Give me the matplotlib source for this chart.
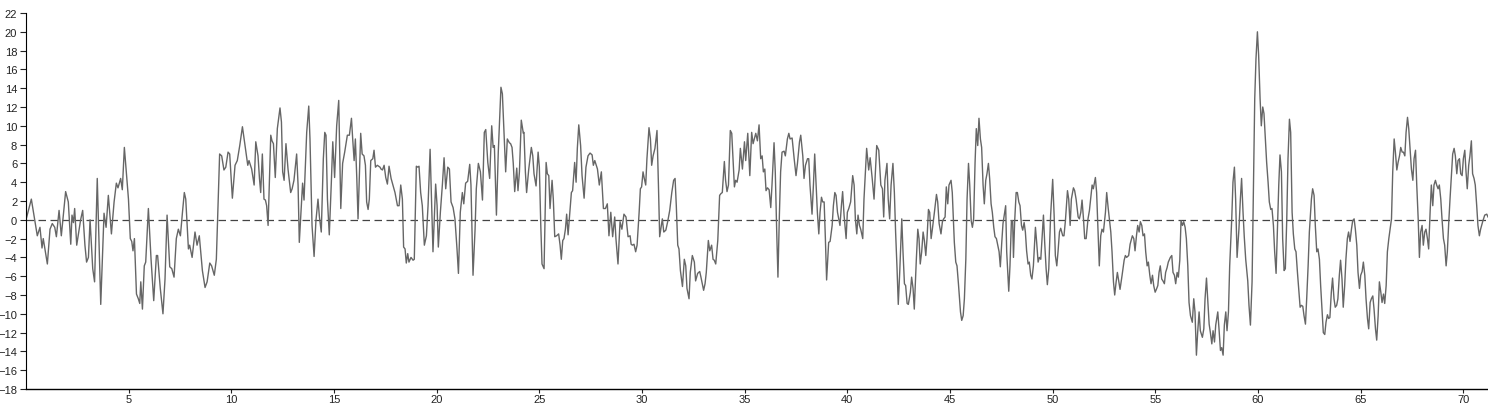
import matplotlib
matplotlib.use("Agg")
import matplotlib.pyplot as plt

# values (turning points of the trace)
x_vals = [
    0.0, 0.26, 0.55, 0.68, 0.78, 0.84, 1.04, 1.17, 1.28, 1.40, 1.48, 1.61, 1.72, 1.93, 2.06, 2.18, 2.24, 2.31, 2.37, 2.47,
    2.66, 2.76, 2.87, 2.95, 3.04, 3.12, 3.25, 3.34, 3.47, 3.64, 3.80, 3.90, 4.01, 4.16, 4.29, 4.40, 4.48, 4.61, 4.69, 4.79,
    4.99, 5.08, 5.15, 5.21, 5.28, 5.38, 5.47, 5.54, 5.59, 5.67, 5.76, 5.83, 5.96, 6.09, 6.22, 6.35, 6.41, 6.54, 6.67, 6.77,
    6.87, 7.00, 7.10, 7.21, 7.32, 7.42, 7.52, 7.62, 7.71, 7.78, 7.91, 7.97, 8.09, 8.23, 8.33, 8.44, 8.59, 8.72, 8.82, 8.95,
    9.04, 9.17, 9.27, 9.43, 9.53, 9.64, 9.73, 9.84, 9.92, 10.05, 10.18, 10.29, 10.41, 10.54, 10.64, 10.80, 10.86, 10.99, 11.11, 11.19,
    11.30, 11.37, 11.43, 11.51, 11.59, 11.66, 11.72, 11.79, 11.92, 11.98, 12.05, 12.14, 12.24, 12.37, 12.44, 12.50, 12.57, 12.66, 12.76, 12.89,
    12.96, 13.05, 13.18, 13.25, 13.31, 13.41, 13.47, 13.54, 13.67, 13.77, 13.83, 13.93, 14.03, 14.12, 14.22, 14.29, 14.38, 14.48, 14.55, 14.61,
    14.68, 14.77, 14.87, 14.94, 15.03, 15.13, 15.23, 15.33, 15.42, 15.52, 15.65, 15.75, 15.85, 15.91, 15.98, 16.04, 16.11, 16.17, 16.30, 16.37,
    16.46, 16.53, 16.59, 16.66, 16.72, 16.79, 16.89, 16.95, 17.02, 17.11, 17.24,
    17.29, 17.36, 17.44, 17.52, 17.60, 17.68, 17.78, 17.87, 17.97, 18.09, 18.17, 18.25, 18.33, 18.39, 18.46, 18.52, 18.59, 18.65, 18.75, 18.85,
    18.91, 19.01, 19.08, 19.14, 19.22, 19.30, 19.40, 19.50, 19.58, 19.68, 19.76, 19.82, 19.95, 20.02, 20.08, 20.18, 20.28, 20.36, 20.44, 20.54,
    20.62, 20.70, 20.80, 20.89, 20.99, 21.06, 21.15, 21.25, 21.32, 21.41, 21.51, 21.61, 21.67, 21.77, 21.87, 21.93, 22.03, 22.13, 22.23, 22.32,
    22.39, 22.49, 22.58, 22.68, 22.75, 22.81, 22.91, 23.00, 23.13, 23.20,
    23.28, 23.36, 23.44, 23.54, 23.60, 23.67, 23.73, 23.80, 23.90, 23.96, 24.03, 24.12, 24.22, 24.25, 24.32, 24.38, 24.48, 24.61, 24.68, 24.74,
    24.84, 24.94, 25.00, 25.07, 25.13, 25.23, 25.33, 25.39, 25.46, 25.52, 25.62, 25.68, 25.75, 25.84, 25.94, 26.01, 26.07, 26.14, 26.20, 26.27,
    26.33, 26.40, 26.46, 26.56, 26.62, 26.72, 26.79, 26.85, 26.92, 27.01, 27.08, 27.18, 27.27, 27.37, 27.47, 27.57, 27.63, 27.70, 27.83, 27.92,
    28.02, 28.12, 28.22, 28.31, 28.39, 28.48, 28.57, 28.67, 28.73, 28.83, 28.93, 29.02, 29.12, 29.22, 29.32, 29.42,
    29.47, 29.53, 29.61, 29.69, 29.76, 29.86, 29.92, 29.98, 30.05, 30.11, 30.18, 30.24, 30.34, 30.41, 30.47, 30.54, 30.63, 30.73, 30.80, 30.86,
    30.93, 30.99, 31.06, 31.16, 31.25, 31.35, 31.45, 31.54, 31.61, 31.67, 31.74, 31.80, 31.87, 31.97, 32.06, 32.13, 32.19, 32.29, 32.35, 32.45,
    32.55, 32.61, 32.71, 32.81, 32.87, 33.00, 33.07, 33.13, 33.23, 33.30, 33.39, 33.46, 33.52, 33.59, 33.69, 33.78, 33.85, 33.91, 34.01, 34.07,
    34.14, 34.21, 34.30, 34.37, 34.43, 34.50, 34.56, 34.63, 34.73, 34.79, 34.89, 34.99, 35.05, 35.15, 35.25, 35.34, 35.41, 35.47, 35.54,
    35.62, 35.70, 35.78, 35.85, 35.91, 35.98, 36.04, 36.11, 36.19, 36.27, 36.33, 36.43, 36.49, 36.56, 36.62, 36.69, 36.75, 36.82, 36.92, 36.98,
    37.08, 37.15, 37.21, 37.31, 37.41, 37.50, 37.57, 37.67, 37.73, 37.83, 37.89, 37.96, 38.06, 38.12, 38.18, 38.28, 38.35, 38.41, 38.48, 38.54,
    38.61, 38.67, 38.74, 38.80, 38.87, 38.93, 38.99, 39.09, 39.16, 39.26, 39.32, 39.39, 39.45, 39.52, 39.58, 39.64, 39.71, 39.77, 39.84, 39.94,
    40.00, 40.07, 40.16, 40.26, 40.33, 40.39, 40.46, 40.52, 40.59, 40.65, 40.75, 40.81, 40.88, 40.94, 41.04, 41.11, 41.21, 41.30, 41.37, 41.43,
    41.53, 41.63,
    41.71, 41.77, 41.83, 41.93, 41.99, 42.06, 42.13, 42.22, 42.29, 42.35, 42.42, 42.48, 42.55, 42.65, 42.71, 42.78, 42.84, 42.91, 42.97, 43.07,
    43.13, 43.20, 43.26, 43.36, 43.43, 43.49, 43.55, 43.62, 43.69, 43.75, 43.82, 43.88, 43.95, 44.01, 44.08, 44.14, 44.24, 44.34, 44.40, 44.47,
    44.56, 44.63, 44.69, 44.76, 44.82, 44.89, 44.95, 45.05, 45.11, 45.21, 45.28, 45.34, 45.41, 45.51, 45.57, 45.64, 45.70, 45.77, 45.83, 45.90,
    45.96, 46.03, 46.09, 46.15, 46.22, 46.28, 46.35, 46.41, 46.48, 46.54, 46.61, 46.67, 46.74, 46.80, 46.87, 46.93, 47.00, 47.06, 47.13, 47.19,
    47.26, 47.39, 47.45, 47.52, 47.58, 47.71,
    47.76, 47.86, 47.92, 47.99, 48.05, 48.09, 48.15, 48.22, 48.28, 48.35, 48.41, 48.48, 48.54, 48.61, 48.67, 48.73, 48.80, 48.86, 48.93, 48.99,
    49.06, 49.16, 49.22, 49.29, 49.35, 49.42, 49.48, 49.55, 49.61, 49.68, 49.74, 49.81, 49.90, 50.00, 50.07, 50.13, 50.20, 50.26, 50.33, 50.39,
    50.49, 50.55, 50.62, 50.72, 50.78, 50.85, 50.91, 51.01, 51.07, 51.14, 51.24, 51.30, 51.37, 51.43, 51.50, 51.56, 51.63, 51.72, 51.79, 51.85,
    51.92, 51.98, 52.08, 52.14, 52.21, 52.27, 52.34, 52.40, 52.47, 52.57, 52.63, 52.70, 52.76, 52.83, 52.89, 52.96, 53.02, 53.09, 53.15, 53.22,
    53.28, 53.38, 53.48, 53.54, 53.60, 53.70, 53.77,
    53.88, 53.95, 54.01, 54.08, 54.14, 54.21, 54.27, 54.34, 54.40, 54.47, 54.53, 54.60, 54.66, 54.73, 54.79, 54.86, 54.92, 54.99, 55.05, 55.12,
    55.18, 55.24, 55.31, 55.37, 55.44, 55.50, 55.57, 55.63, 55.73, 55.80, 55.86, 55.93, 55.99, 56.06, 56.12, 56.19, 56.25, 56.32, 56.38, 56.45,
    56.51, 56.58, 56.64, 56.71, 56.80, 56.87, 56.93, 57.00, 57.06, 57.13, 57.19, 57.29, 57.36, 57.42, 57.49, 57.55, 57.62, 57.68, 57.75, 57.81,
    57.88, 57.94, 58.04, 58.10, 58.17, 58.23, 58.30, 58.36, 58.43, 58.49, 58.56, 58.62, 58.72, 58.78, 58.85, 58.91, 58.98, 59.07, 59.14, 59.20,
    59.27, 59.33, 59.40, 59.50, 59.56, 59.63,
    59.71, 59.77, 59.84, 59.90, 59.97, 60.03, 60.10, 60.16, 60.23, 60.29, 60.36, 60.42, 60.49, 60.55, 60.62, 60.68, 60.75, 60.81, 60.88, 60.94,
    61.01, 61.07, 61.14, 61.20, 61.27, 61.33, 61.40, 61.46, 61.53, 61.59, 61.66, 61.72, 61.79, 61.85, 61.92, 61.98, 62.05, 62.11, 62.18, 62.24,
    62.31, 62.37, 62.44, 62.50, 62.60, 62.66, 62.73, 62.79, 62.86, 62.92, 62.99, 63.05, 63.12, 63.18, 63.25, 63.31, 63.38, 63.44, 63.50, 63.57,
    63.63, 63.70, 63.76, 63.83, 63.89, 63.96, 64.02, 64.09, 64.15, 64.22, 64.28, 64.35, 64.41, 64.48, 64.55, 64.61, 64.68, 64.74, 64.81, 64.87,
    64.94, 65.00, 65.07, 65.13, 65.20, 65.26, 65.33, 65.39, 65.46, 65.52, 65.59, 65.65, 65.72, 65.78, 65.85, 65.91,
    65.98, 66.04, 66.11, 66.17, 66.24, 66.30, 66.37, 66.43, 66.50, 66.56, 66.63, 66.69, 66.76, 66.82, 66.89, 66.95, 67.02, 67.08, 67.15, 67.21,
    67.28, 67.34, 67.41, 67.47, 67.54, 67.60, 67.67, 67.73, 67.80, 67.86, 67.92, 67.99, 68.05, 68.12, 68.18, 68.25, 68.31, 68.38, 68.44, 68.51,
    68.57, 68.64, 68.70, 68.77, 68.83, 68.90, 68.96, 69.03, 69.09, 69.16, 69.22, 69.29, 69.35, 69.42, 69.48, 69.55, 69.61, 69.68, 69.74, 69.81,
    69.87, 69.94, 70.00, 70.07, 70.13, 70.19, 70.26, 70.32, 70.39, 70.45, 70.52, 70.58, 70.65, 70.71, 70.78, 70.84, 70.94, 71.04, 71.14, 71.20,
]

y_vals = [
    0.0, 2.2, -1.7, -0.8, -3.0, -2.0, -4.7, -1.0, -0.4, -0.8, -1.8, 1.0, -1.7, 3.0, 1.9, -2.6, 0.5, -0.3, 1.2, -2.7,
    0.0, 1.0, -2.7, -4.5, -4.0, 0.0, -5.2, -6.6, 4.4, -9.0, 0.7, -0.8, 2.6, -1.5, 1.9, 3.9, 3.4, 4.4, 3.2, 7.7,
    2.2, -2.0, -2.3, -3.3, -2.0, -7.9, -8.4, -8.9, -6.6, -9.5, -4.9, -4.5, 1.2, -4.2, -8.6, -3.8, -3.8, -7.3, -10.0, -6.3,
    0.5, -5.0, -5.2, -6.1, -2.0, -1.0, -1.7, 0.8, 2.9, 2.2, -3.1, -2.7, -4.0, -1.3, -2.7, -1.7, -5.4, -7.2, -6.6, -4.6,
    -4.9, -5.9, -4.2, 7.0, 6.8, 5.3, 5.6, 7.2, 7.0, 2.3, 5.8, 6.3, 7.9, 9.9, 8.3, 5.8, 6.3, 5.4, 3.7, 8.3,
    6.8, 4.4, 2.9, 7.0, 2.2, 2.1, 1.5, -0.6, 9.0, 8.4, 8.1, 4.5, 9.7, 11.9, 10.4, 5.1, 4.2, 8.1, 5.4, 2.9,
    3.3, 4.2, 7.0, 3.7, -2.4, 1.5, 3.9, 2.1, 9.3, 12.1, 8.6, -0.6, -3.9, -0.1, 2.2, 0.3, -1.3, 6.5, 9.3, 9.0,
    2.2, -1.6, 4.0, 8.3, 4.5, 10.0, 12.7, 1.2, 6.0, 7.2, 9.0, 9.0, 10.8, 8.6, 6.3, 8.6, 4.4, 0.1, 9.2, 7.0,
    6.8, 5.8, 1.9, 1.1, 2.2, 6.3, 6.5, 7.4, 5.6, 5.8, 5.6,
    5.4, 5.3, 5.8, 4.5, 3.8, 5.7, 4.4, 3.7, 2.9, 1.5, 1.5, 3.7, 2.2, -2.9, -3.1, -4.6, -3.6, -4.5, -4.0, -4.3,
    -4.2, 5.7, 5.6, 5.7, 2.9, 1.5, -2.7, -1.7, 1.5, 7.5, 1.5, -3.4, 3.8, 1.5, -2.9, 0.8, 3.8, 6.6, 3.3, 5.6,
    5.4, 1.9, 1.3, 0.1, -3.1, -5.7, 0.8, 2.9, 1.7, 3.9, 4.1, 5.9, 3.7, -5.9, -1.0, 3.3, 6.0, 5.1, 2.1, 9.3,
    9.6, 6.1, 4.4, 10.0, 7.7, 7.9, 0.5, 7.2, 14.1, 13.4,
    9.3, 5.1, 8.6, 8.2, 8.1, 7.7, 6.0, 3.0, 5.5, 3.1, 5.1, 10.6, 9.2, 9.3, 5.1, 2.9, 5.3, 7.7, 6.8, 4.9,
    3.6, 7.2, 5.6, -0.6, -4.7, -5.2, 6.1, 4.9, 4.7, 1.2, 4.2, 2.2, -1.8, -1.7, -1.5, -2.7, -4.2, -2.2, -2.0, -1.0,
    0.6, -1.6, 0.1, 2.9, 3.1, 6.1, 4.0, 7.6, 10.1, 7.9, 4.7, 2.3, 5.6, 6.8, 7.1, 6.9, 5.8, 6.3, 5.4, 3.7,
    5.1, 1.2, 1.2, 1.7, -1.7, 0.8, -1.8, 0.3, -2.0, -4.7, -0.2, -1.0, 0.6, 0.3, -1.8, -1.7,
    -2.6, -2.7, -2.6, -3.4, -2.7, 0.8, 3.3, 3.5, 5.1, 4.4, 3.7, 6.5, 9.8, 8.6, 5.8, 6.8, 7.6, 9.5, 3.7, -1.8,
    -0.8, 0.1, -1.3, -1.1, -0.2, 1.0, 2.9, 4.2, 4.4, 1.5, -2.7, -3.1, -5.4, -7.1, -4.2, -4.9, -7.3, -8.4, -5.6, -3.8,
    -4.5, -6.5, -5.7, -5.5, -6.1, -7.5, -6.8, -5.6, -2.2, -3.3, -2.7, -4.2, -4.3, -4.7, -2.2, 2.6, 2.8, 2.9, 6.2, 4.2,
    3.0, 3.7, 9.5, 9.2, 6.5, 3.5, 4.2, 4.0, 5.3, 7.6, 5.4, 8.3, 6.3, 9.2, 4.7, 9.3, 8.1, 8.6, 9.2,
    8.4, 10.1, 6.5, 6.8, 5.1, 5.4, 3.1, 3.4, 3.2, 1.3, 3.7, 8.2, 5.1, -1.3, -6.1, 0.5, 5.1, 7.2, 7.3, 6.8,
    8.6, 9.2, 8.6, 8.7, 6.5, 4.7, 6.0, 8.3, 9.0, 6.8, 4.4, 5.8, 6.5, 6.5, 3.7, 0.6, 3.8, 7.0, 3.7, 0.8,
    -1.5, 0.8, 2.4, 1.9, 1.9, -2.0, -6.4, -2.4, -2.3, -0.6, 1.5, 2.9, 2.6, 0.8, 0.1, -0.6, 1.5, 3.0, 0.5, -2.0,
    0.8, 1.2, 1.9, 4.7, 3.7, 0.1, -1.5, 0.5, -0.6, -1.0, -2.0, 2.2, 5.1, 7.6, 5.3, 6.6, 4.4, 2.2, 5.4, 7.9,
    7.4, 3.7,
    3.3, 0.3, 4.2, 6.0, 2.2, 0.1, 3.7, 6.0, 2.9, -1.3, -5.2, -9.0, -5.6, 0.1, -3.4, -6.8, -7.0, -8.9, -9.0, -7.7,
    -6.1, -7.3, -9.5, -4.2, -1.0, -2.0, -4.7, -3.4, -1.3, -2.2, -3.8, -2.0, 1.1, 0.8, -2.0, -1.0, 0.8, 2.7, 1.9, -0.4,
    -1.5, -0.2, 0.1, 0.3, 3.5, 1.7, 3.7, 4.2, 2.9, -2.4, -4.5, -4.9, -6.8, -9.8, -10.7, -10.2, -8.4, -4.2, 2.2, 6.0,
    3.7, -0.1, -0.8, 0.1, 6.1, 9.7, 7.9, 10.8, 8.6, 7.7, 3.7, 1.7, 4.2, 4.9, 6.0, 4.4, 1.7, 0.8, -0.8, -1.8,
    -2.0, -3.4, -5.0, -2.4, -0.4, 1.5,
    -3.4, -7.6, -4.9, -0.1, -0.1, -4.0, -0.1, 2.9, 2.9, 1.9, 1.5, -0.6, -1.1, -0.3, -1.3, -3.3, -4.7, -4.5, -5.9, -6.3,
    -4.9, -0.8, -2.4, -4.5, -4.0, -4.2, -2.0, 0.5, -2.4, -5.2, -6.9, -5.2, 0.5, 4.3, 0.5, -3.8, -4.9, -3.4, -1.3, -0.9,
    -1.7, -1.7, -0.1, 3.1, 2.2, -0.6, 2.2, 3.4, 3.1, 2.2, 0.3, 0.1, 0.8, 2.1, 0.1, -2.0, -2.0, 0.1, 1.0, 2.2,
    3.7, 3.3, 4.5, 2.9, -1.3, -4.9, -1.7, -1.0, -1.3, 0.8, 2.9, 1.3, 0.1, -1.3, -3.4, -6.6, -8.0, -6.6, -5.6, -6.6,
    -7.4, -5.9, -4.3, -3.8, -4.0, -3.8, -2.6,
    -1.7, -2.0, -3.3, -1.7, -0.6, -1.3, -0.2, -0.6, -1.7, -1.5, -3.4, -4.9, -4.5, -5.9, -6.8, -5.9, -7.0, -7.7, -7.4, -7.0,
    -5.6, -4.9, -6.3, -6.5, -6.8, -5.6, -5.1, -4.5, -4.0, -3.8, -5.6, -5.9, -6.8, -5.6, -6.1, -4.3, -0.1, -0.6, -0.2, -0.8,
    -2.0, -4.9, -8.8, -10.2, -10.9, -8.4, -9.8, -14.4, -12.0, -9.8, -11.8, -12.5, -11.6, -8.4, -6.2, -8.4, -11.1, -12.0, -13.2, -11.8,
    -13.0, -11.2, -9.8, -11.6, -13.9, -13.6, -14.4, -11.2, -9.8, -11.8, -9.8, -4.9, 0.1, 4.0, 5.6, 2.2, -4.0, -1.0, 2.2, 4.4,
    0.8, -1.8, -4.2, -6.5, -9.1, -11.2,
    -6.6, 2.2, 12.9, 17.1, 20.0, 17.5, 12.9, 10.0, 12.0, 11.3, 8.6, 6.1, 4.0, 1.9, 1.1, 1.2, -0.6, -3.4, -5.7, -1.3,
    3.7, 6.9, 5.1, -2.0, -5.4, -5.2, 0.1, 6.5, 10.7, 9.3, 0.8, -1.5, -3.1, -3.4, -5.6, -7.3, -9.3, -9.1, -9.2, -10.2,
    -11.1, -8.4, -4.9, -1.3, 2.2, 3.3, 2.6, -0.6, -3.4, -3.1, -4.2, -7.0, -9.8, -12.0, -12.2, -10.9, -10.1, -10.5, -10.4, -7.7,
    -6.2, -8.4, -9.3, -9.1, -8.4, -5.9, -4.3, -6.3, -9.3, -7.0, -4.2, -2.0, -1.3, -2.3, -1.0, -0.1, 0.1, -1.0, -2.7, -5.6,
    -7.3, -5.9, -5.5, -4.5, -5.9, -8.4, -10.5, -11.6, -8.8, -8.4, -8.1, -9.5, -11.6, -12.8, -10.2, -6.6,
    -7.7, -8.8, -7.9, -8.9, -7.0, -3.4, -2.0, -1.0, 0.1, 5.1, 8.6, 7.2, 5.3, 6.1, 6.8, 7.7, 7.2, 7.2, 6.8, 9.3,
    10.9, 9.7, 7.4, 5.4, 4.2, 6.5, 7.4, 3.7, 0.1, -4.0, -1.3, -0.6, -2.7, -1.3, -1.0, -2.0, -3.1, 0.8, 3.7, 1.5,
    3.7, 4.2, 3.7, 3.3, 3.7, 2.2, 0.1, -2.0, -2.7, -4.9, -3.4, -0.2, 2.2, 4.7, 7.0, 7.6, 6.8, 4.9, 6.3, 6.5,
    4.9, 4.7, 6.5, 7.4, 5.1, 3.3, 5.8, 6.8, 8.4, 4.9, 4.4, 3.7, 1.5, -0.6, -1.7, -1.0, -0.2, 0.5, 0.6, 0.3,
]

y_ticks = list(range(-18, 23, 2))
x_ticks = list(range(5, 71, 5))

plt.rcParams["font.family"] = ["Liberation Sans", "DejaVu Sans"]

fig = plt.figure(figsize=(14.88, 4.06), dpi=100)
ax = fig.add_axes([26 / 1488, 16 / 406, 1462 / 1488, 376 / 406])

ax.axhline(0, color="#444444", lw=0.9, dashes=(6, 3.6))
ax.plot(x_vals, y_vals, color="#666666", lw=1.0)

ax.set_xlim(0, 71.2)
ax.set_ylim(-18, 22)
ax.set_xticks(x_ticks)
ax.set_yticks(y_ticks)
ax.tick_params(labelsize=8, width=0.8, colors="#222222")
ax.tick_params(axis="y", length=4.3, pad=2)
ax.tick_params(axis="x", length=3.0, pad=0.5)

for s in ["top", "right"]:
    ax.spines[s].set_visible(False)
ax.spines["left"].set_linewidth(0.8)
ax.spines["bottom"].set_linewidth(1.0)

fig.savefig("out.png", dpi=100)
